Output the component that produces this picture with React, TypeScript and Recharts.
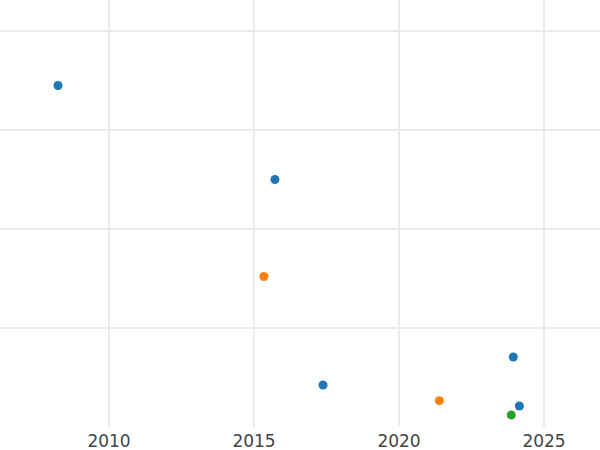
import { ScatterChart, Scatter, XAxis, YAxis, CartesianGrid } from "recharts";

// years on x, unlabelled value on y
const blueYears = [2008.24, 2015.72, 2017.38, 2023.94, 2024.15];
const blueValues = [3.45, 2.5, 0.424, 0.707, 0.212];

const orangeYears = [2015.34, 2021.39];
const orangeValues = [1.52, 0.266];

const greenYears = [2023.87];
const greenValues = [0.121];

const xTicks = [2010, 2015, 2020, 2025];
const yTicks = [1, 2, 3, 4];

const toPoints = (xs: number[], ys: number[]) => xs.map((x, i) => ({ x, y: ys[i] }));

export default function App() {
  return (
    <div style={{ position: "absolute", left: 0, top: 0, width: 600, height: 450, background: "#fff" }}>
      <ScatterChart width={600} height={450} margin={{ top: 0, right: 0, bottom: 0, left: 0 }}>
        {/* syncWithTicks keeps the grid off the plot edges */}
        <CartesianGrid stroke="#ebebeb" strokeWidth={2} syncWithTicks />
        <XAxis
          type="number"
          dataKey="x"
          domain={[2006.24, 2026.93]}
          ticks={xTicks}
          allowDataOverflow
          axisLine={false}
          tickLine={false}
          height={23}
          tick={{ fill: "#444", fontSize: 17, fontFamily: "DejaVu Sans" }}
        />
        <YAxis type="number" dataKey="y" domain={[0, 4.313]} ticks={yTicks} allowDataOverflow hide />
        <Scatter data={toPoints(blueYears, blueValues)} fill="#1f77b4" isAnimationActive={false} />
        <Scatter data={toPoints(orangeYears, orangeValues)} fill="#ff7f0e" isAnimationActive={false} />
        <Scatter data={toPoints(greenYears, greenValues)} fill="#2ca02c" isAnimationActive={false} />
      </ScatterChart>
    </div>
  );
}
